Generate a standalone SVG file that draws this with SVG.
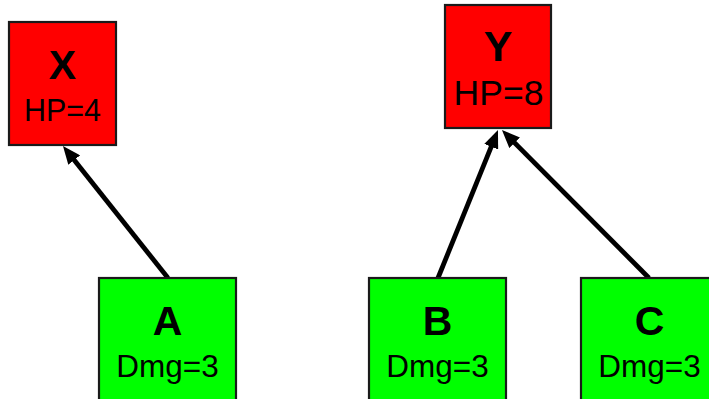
<svg xmlns="http://www.w3.org/2000/svg" width="709" height="399" viewBox="0 0 709 399">
<style>
.box{stroke:#1a1a1a;stroke-width:2.2}
.red{fill:#ff0000}
.green{fill:#00ff00}
.title{font-family:"Liberation Sans",Arial,sans-serif;font-weight:bold;font-size:41px;text-anchor:middle;fill:#000}
.label{font-family:"Liberation Sans",Arial,sans-serif;font-size:31.5px;text-anchor:middle;fill:#000}
.edge{stroke:#000;stroke-width:4.8;fill:none;marker-end:url(#arrow)}
</style>
<defs>
<marker id="arrow" markerUnits="userSpaceOnUse" markerWidth="18" markerHeight="15" viewBox="0 0 18 15" refX="8" refY="7.5" orient="auto">
<path d="M0,0 L18,7.5 L0,15 z" fill="#000"/>
</marker>
</defs>
<g id="connectors">
<line class="edge" x1="168" y1="278" x2="69.2" y2="153.8"/>
<line class="edge" x1="438" y1="278" x2="494.2" y2="139.3"/>
<line class="edge" x1="649" y1="278" x2="509" y2="137.1"/>
</g>
<g id="node-X">
<rect class="box red" x="9" y="22" width="107" height="123"/>
<text class="title" x="62.5" y="79">X</text>
<text class="label" x="62.5" y="121" style="font-size:30.5px">HP=4</text>
</g>
<g id="node-Y">
<rect class="box red" x="445" y="5" width="106" height="123"/>
<text class="title" x="498" y="61" style="font-size:43px">Y</text>
<text class="label" x="498.5" y="105" style="font-size:35.5px">HP=8</text>
</g>
<g id="node-A">
<rect class="box green" x="99" y="278" width="137" height="130"/>
<text class="title" x="167.5" y="334.5">A</text>
<text class="label" x="167.5" y="376.5">Dmg=3</text>
</g>
<g id="node-B">
<rect class="box green" x="369" y="278" width="137" height="130"/>
<text class="title" x="437.5" y="334.5">B</text>
<text class="label" x="437.5" y="376.5">Dmg=3</text>
</g>
<g id="node-C">
<rect class="box green" x="581" y="278" width="137" height="130"/>
<text class="title" x="649.5" y="334.5">C</text>
<text class="label" x="649.5" y="376.5">Dmg=3</text>
</g>
</svg>
